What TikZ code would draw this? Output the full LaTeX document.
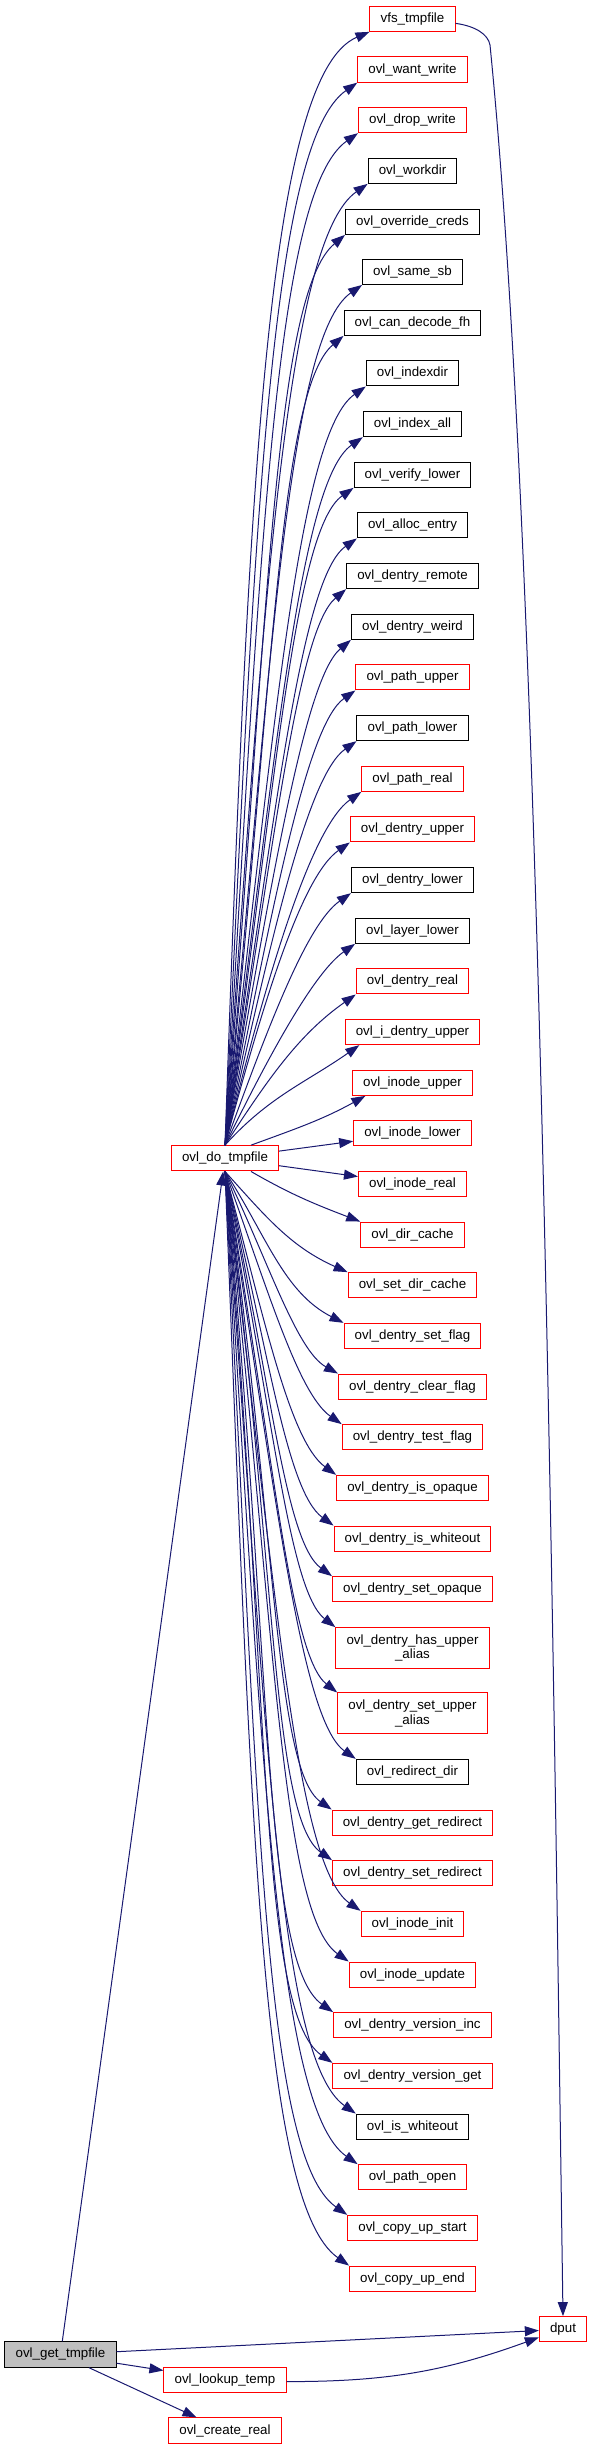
\documentclass[tikz,border=0pt]{standalone}
\usepackage{fontspec}
\setmainfont{Liberation Sans}
\usetikzlibrary{arrows.meta}
\definecolor{callblue}{HTML}{191970}
\tikzset{
  fn/.style={draw=black,fill=white,line width=0.75pt,inner xsep=8pt,inner ysep=2pt,minimum height=19pt,align=center},
  fnred/.style={fn,draw=red},
  fncur/.style={fn,fill=black!25},
  twoline/.style={minimum height=30.5pt},
  call/.style={draw=callblue,line width=0.75pt,-{Triangle[length=10.5pt,width=7.5pt]}},
  rise/.style n args={3}{out=#1,in=215,out looseness=#2,in looseness=#3},
  fall/.style n args={3}{out=#1,in=145,out looseness=#2,in looseness=#3}
}
\begin{document}
\begin{tikzpicture}[x=0.75pt,y=0.75pt,every node/.style={font=\fontsize{10}{11}\selectfont}]
  \useasboundingbox (0,0) rectangle (589,-2449);

  \node[fncur] (gettmp) at (60.5,-2354.5) {ovl\_get\_tmpfile};
  \node[fnred] (do) at (225,-1158.3) {ovl\_do\_tmpfile};
  \node[fnred] (lookup) at (225,-2380) {ovl\_lookup\_temp};
  \node[fnred] (create) at (225,-2430.5) {ovl\_create\_real};
  \node[fnred] (dput) at (563,-2329.3) {dput};

  \node[fnred] (vfs) at (412.5,-18.7) {vfs\_tmpfile};
  \node[fnred] (want) at (412.5,-69.5) {ovl\_want\_write};
  \node[fnred] (drop) at (412.5,-120) {ovl\_drop\_write};
  \node[fn] (workdir) at (412.5,-170.7) {ovl\_workdir};
  \node[fn] (override) at (412.5,-221.7) {ovl\_override\_creds};
  \node[fn] (samesb) at (412.5,-271.8) {ovl\_same\_sb};
  \node[fn] (candecode) at (412.5,-322.7) {ovl\_can\_decode\_fh};
  \node[fn] (indexdir) at (412.5,-373.3) {ovl\_indexdir};
  \node[fn] (indexall) at (412.5,-424) {ovl\_index\_all};
  \node[fn] (verify) at (412.5,-474.7) {ovl\_verify\_lower};
  \node[fn] (alloc) at (412.5,-525.3) {ovl\_alloc\_entry};
  \node[fn] (remote) at (412.5,-576) {ovl\_dentry\_remote};
  \node[fn] (weird) at (412.5,-626.7) {ovl\_dentry\_weird};
  \node[fnred] (pupper) at (412.5,-677.3) {ovl\_path\_upper};
  \node[fn] (plower) at (412.5,-728) {ovl\_path\_lower};
  \node[fnred] (preal) at (412.5,-778.7) {ovl\_path\_real};
  \node[fnred] (dupper) at (412.5,-829.3) {ovl\_dentry\_upper};
  \node[fn] (dlower) at (412.5,-880) {ovl\_dentry\_lower};
  \node[fn] (layer) at (412.5,-930.7) {ovl\_layer\_lower};
  \node[fnred] (dreal) at (412.5,-981.3) {ovl\_dentry\_real};
  \node[fnred] (idupper) at (412.5,-1032) {ovl\_i\_dentry\_upper};
  \node[fnred] (iupper) at (412.5,-1082.7) {ovl\_inode\_upper};
  \node[fnred] (ilower) at (412.5,-1133.3) {ovl\_inode\_lower};
  \node[fnred] (ireal) at (412.5,-1184) {ovl\_inode\_real};
  \node[fnred] (dircache) at (412.5,-1234.7) {ovl\_dir\_cache};
  \node[fnred] (setdircache) at (412.5,-1285.3) {ovl\_set\_dir\_cache};
  \node[fnred] (setflag) at (412.5,-1336) {ovl\_dentry\_set\_flag};
  \node[fnred] (clearflag) at (412.5,-1386.7) {ovl\_dentry\_clear\_flag};
  \node[fnred] (testflag) at (412.5,-1437.3) {ovl\_dentry\_test\_flag};
  \node[fnred] (isopaque) at (412.5,-1488) {ovl\_dentry\_is\_opaque};
  \node[fnred] (iswhiteout) at (412.5,-1538.7) {ovl\_dentry\_is\_whiteout};
  \node[fnred] (setopaque) at (412.5,-1589.3) {ovl\_dentry\_set\_opaque};
  \node[fnred,twoline] (hasupper) at (412.5,-1648) {ovl\_dentry\_has\_upper\\\_alias};
  \node[fnred,twoline] (setupper) at (412.5,-1713.3) {ovl\_dentry\_set\_upper\\\_alias};
  \node[fn] (redirect) at (412.5,-1772) {ovl\_redirect\_dir};
  \node[fnred] (getredir) at (412.5,-1822.7) {ovl\_dentry\_get\_redirect};
  \node[fnred] (setredir) at (412.5,-1873.3) {ovl\_dentry\_set\_redirect};
  \node[fnred] (iinit) at (412.5,-1924) {ovl\_inode\_init};
  \node[fnred] (iupdate) at (412.5,-1974.7) {ovl\_inode\_update};
  \node[fnred] (vinc) at (412.5,-2025.3) {ovl\_dentry\_version\_inc};
  \node[fnred] (vget) at (412.5,-2076) {ovl\_dentry\_version\_get};
  \node[fn] (iswh) at (412.5,-2126.7) {ovl\_is\_whiteout};
  \node[fnred] (popen) at (412.5,-2177.3) {ovl\_path\_open};
  \node[fnred] (cpstart) at (412.5,-2228) {ovl\_copy\_up\_start};
  \node[fnred] (cpend) at (412.5,-2278.7) {ovl\_copy\_up\_end};

  \draw[call] (gettmp) -- (do);
  \draw[call] (gettmp) -- (dput);
  \draw[call] (gettmp) -- (lookup);
  \draw[call] (gettmp) -- (create);
  \draw[call] (lookup) to[bend right=10] (dput);
  \coordinate (vfsturn) at (490,-45);
  \draw[call] ([yshift=-3.5pt]vfs.east) .. controls (475,-26) and (488,-34) .. (vfsturn)
    .. controls (540,-545) and (553,-1617) .. (dput.north);

  \draw[call] (do.north) to[rise={88}{1.52}{0.25},in=203] (vfs.south west);
  \draw[call] (do.north) to[rise={87.3}{1.51}{0.252}] (want.south west);
  \draw[call] (do.north) to[rise={86.6}{1.50}{0.254}] (drop.south west);
  \draw[call] (do.north) to[rise={86}{1.49}{0.256}] (workdir.south west);
  \draw[call] (do.north) to[rise={85.3}{1.47}{0.258},in=220] (override.south west);
  \draw[call] (do.north) to[rise={84.6}{1.46}{0.261}] (samesb.south west);
  \draw[call] (do.north) to[rise={84}{1.45}{0.264},in=220] (candecode.south west);
  \draw[call] (do.north) to[rise={83.3}{1.44}{0.267}] (indexdir.south west);
  \draw[call] (do.north) to[rise={82.6}{1.42}{0.271}] (indexall.south west);
  \draw[call] (do.north) to[rise={82}{1.41}{0.275}] (verify.south west);
  \draw[call] (do.north) to[rise={81.3}{1.39}{0.281}] (alloc.south west);
  \draw[call] (do.north) to[rise={80.7}{1.38}{0.286},in=220] (remote.south west);
  \draw[call] (do.north) to[rise={80}{1.36}{0.293},in=220] (weird.south west);
  \draw[call] (do.north) to[rise={78.7}{1.32}{0.323}] (pupper.south west);
  \draw[call] (do.north) to[rise={77.4}{1.28}{0.36}] (plower.south west);
  \draw[call] (do.north) to[rise={76.2}{1.23}{0.406}] (preal.south west);
  \draw[call] (do.north) to[rise={75}{1.17}{0.46}] (dupper.south west);
  \draw[call] (do.north) to[rise={70}{1.14}{0.49}] (dlower.south west);
  \draw[call] (do.north) to[rise={64}{1.07}{0.53}] (layer.south west);
  \draw[call] (do.north) to[rise={57}{1}{0.9}] (dreal.south west);
  \draw[call] (do.north) to[rise={48}{1}{1}] ([xshift=11pt]idupper.south west);
  \draw[call] ([xshift=19.5pt]do.north) to[out=20,in=209] ([xshift=10pt]iupper.south west);
  \draw[call] (do) -- (ilower);
  \draw[call] (do) -- (ireal);
  \draw[call] ([xshift=19.5pt]do.south) to[out=-30,in=159] (dircache.north west);
  \draw[call] (do.south) to[fall={-48}{1}{1},in=156] (setdircache.north west);
  \draw[call] (do.south) to[fall={-57}{1}{0.9},in=153] (setflag.north west);
  \draw[call] (do.south) to[fall={-64}{1.07}{0.53},in=151] (clearflag.north west);
  \draw[call] (do.south) to[fall={-70}{1.14}{0.49}] (testflag.north west);
  \draw[call] (do.south) to[fall={-75}{1.17}{0.46},in=144] (isopaque.north west);
  \draw[call] (do.south) to[fall={-76.2}{1.23}{0.405},in=144] (iswhiteout.north west);
  \draw[call] (do.south) to[fall={-77.5}{1.28}{0.36},in=144] (setopaque.north west);
  \draw[call] (do.south) to[fall={-78.7}{1.32}{0.323},in=142] (hasupper.north west);
  \draw[call] (do.south) to[fall={-80.2}{1.37}{0.29},in=142] (setupper.north west);
  \draw[call] (do.south) to[fall={-81.1}{1.39}{0.283}] (redirect.north west);
  \draw[call] (do.south) to[fall={-81.7}{1.40}{0.277}] (getredir.north west);
  \draw[call] (do.south) to[fall={-82.4}{1.42}{0.273}] (setredir.north west);
  \draw[call] (do.south) to[fall={-83.1}{1.43}{0.269}] (iinit.north west);
  \draw[call] (do.south) to[fall={-83.7}{1.44}{0.265}] (iupdate.north west);
  \draw[call] (do.south) to[fall={-84.4}{1.46}{0.262}] (vinc.north west);
  \draw[call] (do.south) to[fall={-85}{1.47}{0.259}] (vget.north west);
  \draw[call] (do.south) to[fall={-85.7}{1.48}{0.257}] (iswh.north west);
  \draw[call] (do.south) to[fall={-86.4}{1.49}{0.254}] (popen.north west);
  \draw[call] (do.south) to[fall={-87}{1.51}{0.252}] (cpstart.north west);
  \draw[call] (do.south) to[fall={-87.7}{1.52}{0.25}] (cpend.north west);
\end{tikzpicture}
\end{document}
